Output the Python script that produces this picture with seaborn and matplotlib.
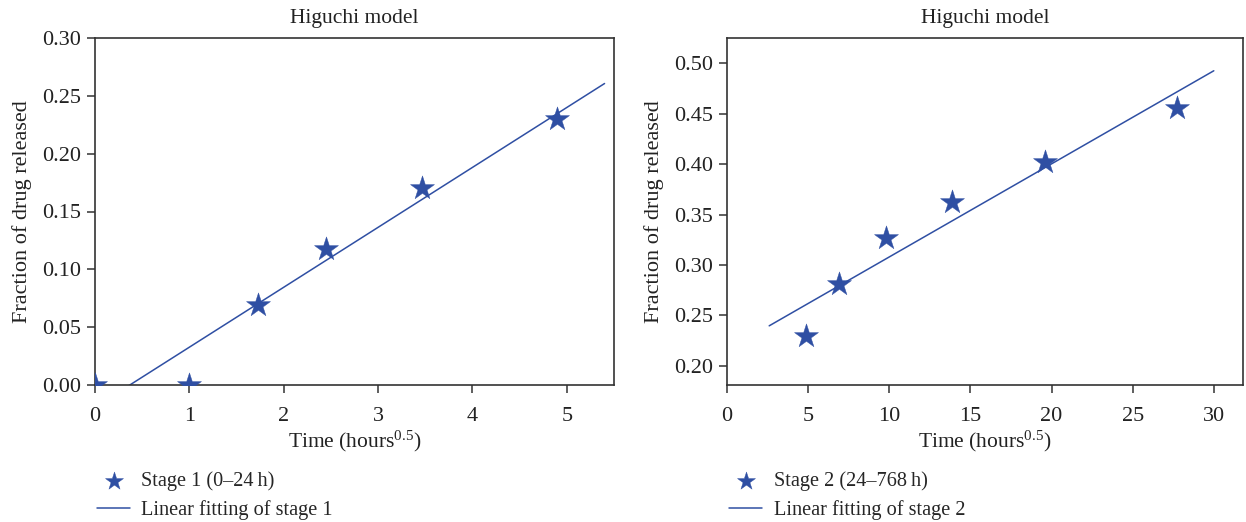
import numpy as np
import pandas as pd
import seaborn as sns
import matplotlib
matplotlib.use("Agg")
import matplotlib.pyplot as plt

# ---- data ----
stage1_time = [0.0, 1.0, 1.732, 2.449, 3.464, 4.899]
stage1_frac = [0.0, 0.0, 0.069, 0.118, 0.170, 0.230]
stage1_fit_range = [0.0, 5.4]

stage2_time = [4.899, 6.928, 9.798, 13.856, 19.596, 27.713]
stage2_frac = [0.230, 0.281, 0.327, 0.362, 0.402, 0.456]
stage2_fit_range = [2.6, 30.0]

labels_points = ["Stage 1 (0\u201324\u2009h)", "Stage 2 (24\u2013768\u2009h)"]
labels_fit = ["Linear fitting of stage 1", "Linear fitting of stage 2"]
title = "Higuchi model"
xlabel = "Time (hours$^{0.5}$)"
ylabel = "Fraction of drug released"

sns.set_theme(style="ticks")
plt.rcParams["font.family"] = ["Liberation Serif", "DejaVu Serif"]
plt.rcParams["mathtext.fontset"] = "custom"
plt.rcParams["mathtext.rm"] = "Liberation Serif"
plt.rcParams["mathtext.it"] = "Liberation Serif"

BLUE = "#2f4fa3"
SPINE = "#333333"
TXT = "#222222"
W, H = 1246, 522
fig = plt.figure(figsize=(W / 100, H / 100), dpi=100)

def ax_rect(x0, x1, y0, y1):
    return [x0 / W, 1 - y1 / H, (x1 - x0) / W, (y1 - y0) / H]

ax1 = fig.add_axes(ax_rect(95, 614, 38, 385))
ax2 = fig.add_axes(ax_rect(727, 1243, 38, 385))

panels = [
    (ax1, stage1_time, stage1_frac, stage1_fit_range, (0, 5.5), (0, 0.30),
     np.arange(0, 6, 1), np.arange(0, 0.31, 0.05)),
    (ax2, stage2_time, stage2_frac, stage2_fit_range, (0, 31.8), (0.181, 0.525),
     np.arange(0, 31, 5), np.arange(0.20, 0.51, 0.05)),
]

for i, (ax, xt, yf, fr, xl, yl, xticks, yticks) in enumerate(panels):
    df = pd.DataFrame({"t": xt, "f": yf})
    slope, intercept = np.polyfit(df["t"], df["f"], 1)
    fit = pd.DataFrame({"t": fr, "f": [slope * v + intercept for v in fr]})
    sns.lineplot(data=fit, x="t", y="f", ax=ax, color=BLUE, lw=1.1,
                 label=labels_fit[i], zorder=2)
    sns.scatterplot(data=df, x="t", y="f", ax=ax, marker="*", s=330,
                    color=BLUE, edgecolor=BLUE, linewidth=0.3,
                    label=labels_points[i], zorder=3)
    ax.set_xlim(*xl)
    ax.set_ylim(*yl)
    ax.set_xticks(xticks)
    ax.set_yticks(yticks)
    ax.set_yticklabels([f"{v:.2f}" for v in yticks])
    ax.set_xticklabels([f"{v:.0f}" for v in xticks])
    ax.tick_params(axis="both", direction="out", length=6, width=1.1,
                   color=SPINE, labelsize=16, labelcolor=TXT, pad=4)
    ax.tick_params(axis="x", pad=10)
    for sp in ax.spines.values():
        sp.set_color(SPINE)
        sp.set_linewidth(1.2)
    ax.set_title(title, fontsize=15.5, color=TXT, pad=11)
    ax.set_xlabel(xlabel, fontsize=15.5, color=TXT, labelpad=2)
    ax.set_ylabel(ylabel, fontsize=16, color=TXT, labelpad=7)
    handles, lbls = ax.get_legend_handles_labels()
    order = [lbls.index(labels_points[i]), lbls.index(labels_fit[i])]
    ax.legend([handles[k] for k in order], [lbls[k] for k in order],
              loc="upper left", bbox_to_anchor=(-0.012, -0.225),
              frameon=False, fontsize=14.6, handlelength=1.65,
              handletextpad=0.55, labelspacing=0.45, markerscale=0.75,
              borderaxespad=0)

fig.savefig("out.png", dpi=100, facecolor="white")
